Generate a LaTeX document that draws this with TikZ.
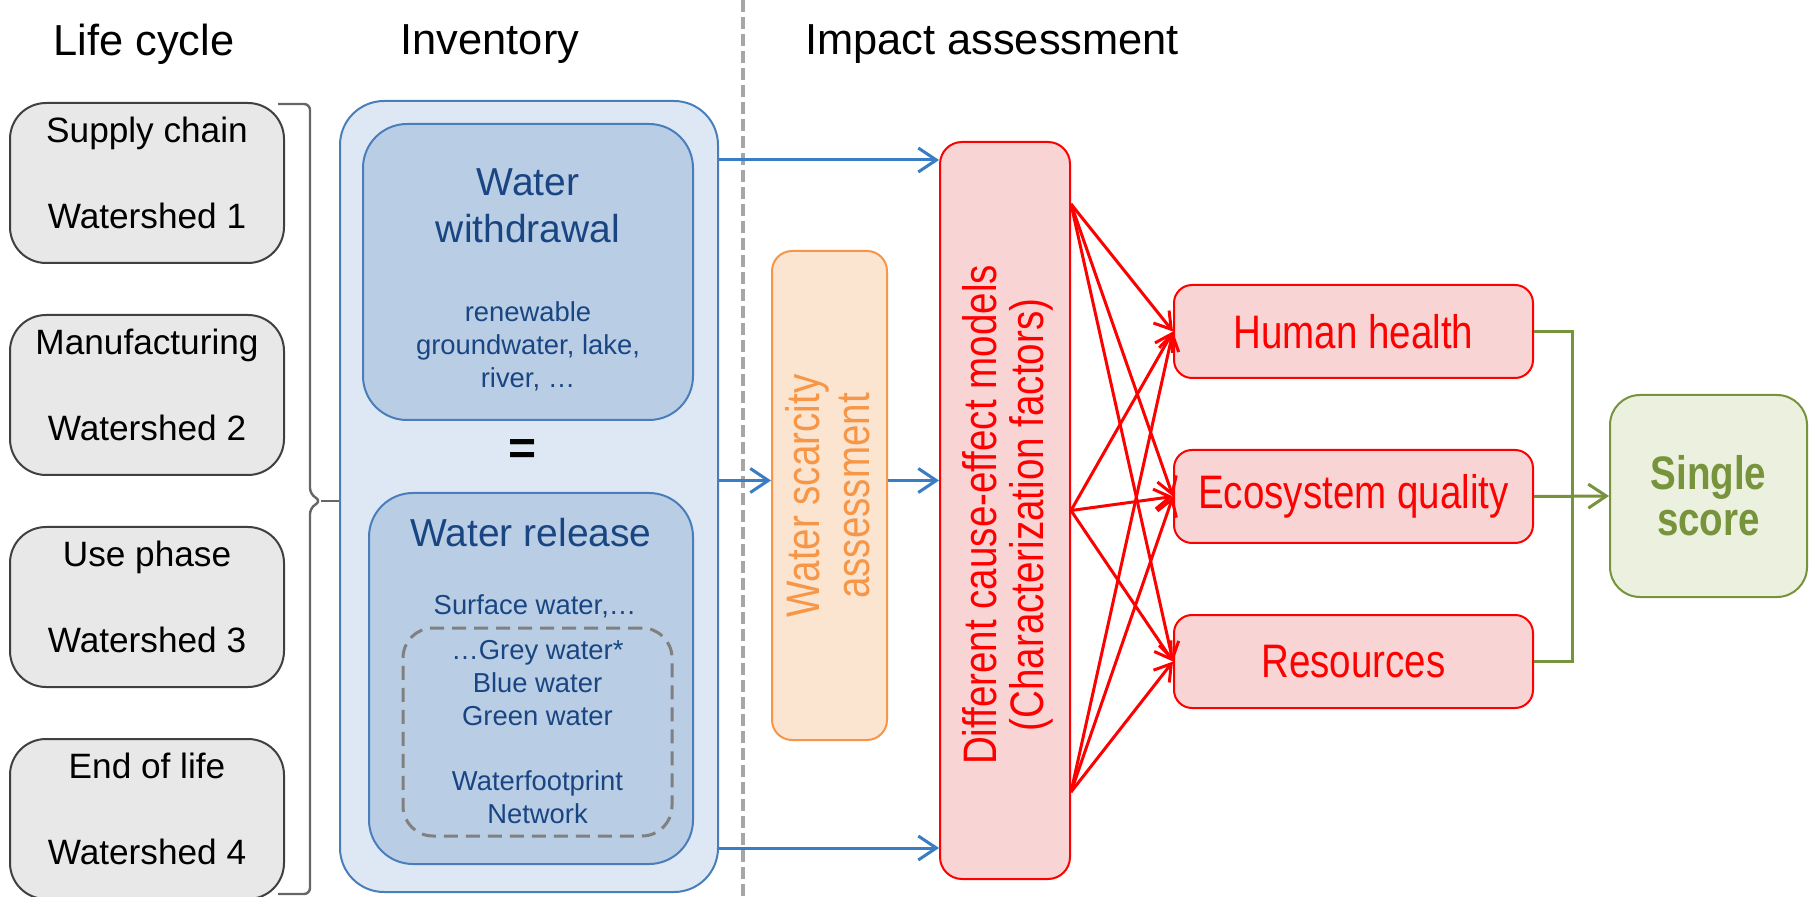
\documentclass[tikz,border=0pt]{standalone}
\usepackage{fontspec}
\setmainfont{Liberation Sans}
\newfontfamily\narrowfont[FakeStretch=0.82]{Liberation Sans}
\usetikzlibrary{arrows.meta,positioning}

\definecolor{stagefill}{RGB}{232,232,232}
\definecolor{invline}{RGB}{74,126,187}
\definecolor{invfill}{RGB}{222,232,244}
\definecolor{invmid}{RGB}{185,205,229}
\definecolor{invtext}{RGB}{25,70,130}
\definecolor{flowblue}{RGB}{58,125,196}
\definecolor{scarline}{RGB}{247,150,70}
\definecolor{scarfill}{RGB}{251,228,208}
\definecolor{cfred}{RGB}{255,0,0}
\definecolor{cffill}{RGB}{249,212,212}
\definecolor{scoregreen}{RGB}{119,147,60}
\definecolor{scorefill}{RGB}{235,241,222}

\begin{document}
\begin{tikzpicture}[x=0.5pt, y=-0.5pt, node distance=106pt, on grid,
    heading/.style  = {font=\fontsize{21.7}{26}\selectfont},
    stage/.style    = {draw=black!75, fill=stagefill, line width=1pt, rounded corners=18pt,
                       minimum width=137pt, minimum height=80pt, inner sep=0pt, align=center,
                       text depth=10pt, font=\fontsize{17.6}{43}\selectfont},
    invbox/.style   = {draw=invline, fill=invmid, line width=1pt, rounded corners=22pt, inner sep=0pt},
    invbig/.style   = {text=invtext, align=center, font=\fontsize{19.5}{23.5}\selectfont},
    invsmall/.style = {text=invtext, align=center, font=\fontsize{13.7}{16.5}\selectfont},
    fpbox/.style    = {draw=black!50, dash pattern=on 7pt off 4pt, line width=1.5pt,
                       rounded corners=15pt, inner sep=0pt},
    narrow/.style   = {align=center, font=\narrowfont\fontsize{23.5}{23.5}\selectfont},
    scarbox/.style  = {draw=scarline, fill=scarfill, line width=1pt, rounded corners=10pt, inner sep=0pt},
    cfbox/.style    = {draw=cfred, fill=cffill, line width=1pt, rounded corners=11pt, inner sep=0pt},
    endbox/.style   = {narrow, draw=cfred, fill=cffill, text=cfred, line width=1pt, rounded corners=9pt,
                       minimum width=179.5pt, minimum height=46.5pt, inner sep=0pt},
    scorebox/.style = {draw=scoregreen, fill=scorefill, text=scoregreen, line width=1pt,
                       rounded corners=15pt, minimum width=98.5pt, minimum height=101pt, inner sep=0pt,
                       align=center, font=\narrowfont\bfseries\fontsize{23.5}{23}\selectfont},
    flow/.style     = {draw=flowblue, line width=1.5pt, -{Straight Barb[length=9pt,width=12pt]}},
    fan/.style      = {draw=cfred, line width=1.5pt, -{Straight Barb[length=8pt,width=10pt]}},
    sum/.style      = {draw=scoregreen, line width=1.5pt},
    lcbrace/.style  = {draw=black!60, line width=1.2pt, rounded corners=3pt},
    divider/.style  = {draw=black!35, line width=2pt, dash pattern=on 6pt off 2.5pt}
]
\useasboundingbox (0,0) rectangle (1809,897);

% column headings
\node[heading] (h_life)   at (144,44) {Life cycle};
\node[heading] (h_inv)    at (490,44) {Inventory};
\node[heading] (h_impact) at (992,44) {Impact assessment};

\draw[divider] (743,0) -- (743,897);

% life cycle stages
\node[stage]                 (ws_1) at (147,183) {Supply chain\\Watershed 1};
\node[stage, below of=ws_1]  (ws_2)              {Manufacturing\\Watershed 2};
\node[stage, below of=ws_2]  (ws_3)              {Use phase\\Watershed 3};
\node[stage, below of=ws_3]  (ws_4)              {End of life\\Watershed 4};

% inventory
\node[invbox, fill=invfill, minimum width=189pt, minimum height=395.5pt] (inv) at (529,496.5) {};
\node[invbox, minimum width=165pt, minimum height=148pt] (wd) at (528,272) {};
\node[invbig]   (wd_t) at (528,206) {Water\\withdrawal};
\node[invsmall] (wd_s) at (528,346) {renewable\\groundwater, lake,\\river, …};
\node[font=\bfseries\fontsize{24}{24}\selectfont] (eq_sign) at (523,452) {=};
\node[invbox, minimum width=162pt, minimum height=185.5pt] (rel) at (531,678.5) {};
\node[invbig]   (rel_t) at (531,533) {Water release};
\node[invsmall] (surf)  at (535,606) {Surface water,…};
\node[fpbox, invsmall, minimum width=134.5pt, minimum height=104pt] (fp) at (537.5,732)
    {…Grey water*\\Blue water\\Green water\\[16pt]Waterfootprint\\Network};

% brace from stages to inventory
\coordinate (brace_tip) at (321,501);
\draw[lcbrace] (278,104) -- (310,104) -- (310,494) -- (brace_tip) -- (310,508) -- (310,894) -- (278,894);
\draw[lcbrace] (brace_tip) -- (inv.west |- brace_tip);

% impact assessment
\node[scarbox, minimum width=57.5pt, minimum height=244.5pt] (scar) at (829.5,495.5) {};
\node[narrow, text=scarline, rotate=90, font=\narrowfont\fontsize{23.5}{25}\selectfont] (scar_t) at (828,496)
    {Water scarcity\\assessment};
\node[cfbox, minimum width=65pt, minimum height=368.5pt] (cf) at (1005,510.5) {};
\node[narrow, text=cfred, rotate=90] (cf_t) at (1008,515)
    {Different cause-effect models\\(Characterization factors)};

\node[endbox]                                (hh)  at (1353.5,331.5) {Human health};
\node[endbox, node distance=82.5pt, below of=hh] (eq)              {Ecosystem quality};
\node[endbox, node distance=82.5pt, below of=eq] (res)             {Resources};
\node[scorebox] (score) at (1708.5,496) {Single\\score};

% inventory flows
\coordinate (cf_in1)  at ([yshift=-9.5pt]cf.north west);
\coordinate (cf_in3)  at ([yshift=16pt]cf.south west);
\coordinate (scar_in) at ([yshift=7.5pt]scar.west);
\draw[flow] (inv.east |- cf_in1) -- (cf_in1);
\draw[flow] (inv.east |- cf_in3) -- (cf_in3);
\draw[flow] (inv.east |- scar_in) -- (scar_in);
\draw[flow] (scar_in -| scar.east) -- (scar_in -| cf.west);

% cause-effect chains
\coordinate (cf_o1) at ([yshift=-31.5pt]cf.north east);
\coordinate (cf_o2) at (cf.east);
\coordinate (cf_o3) at ([yshift=44pt]cf.south east);
\foreach \src in {cf_o1,cf_o2,cf_o3}
    \foreach \dst in {hh,eq,res}
        \draw[fan] (\src) -- (\dst.west);

% aggregation
\coordinate (sum_join) at (1572,496.5);
\draw[sum] (hh.east) -| (sum_join) |- (res.east);
\draw[sum, -{Straight Barb[length=9pt,width=12pt]}] (eq.east) -- (score.west);
\end{tikzpicture}
\end{document}
